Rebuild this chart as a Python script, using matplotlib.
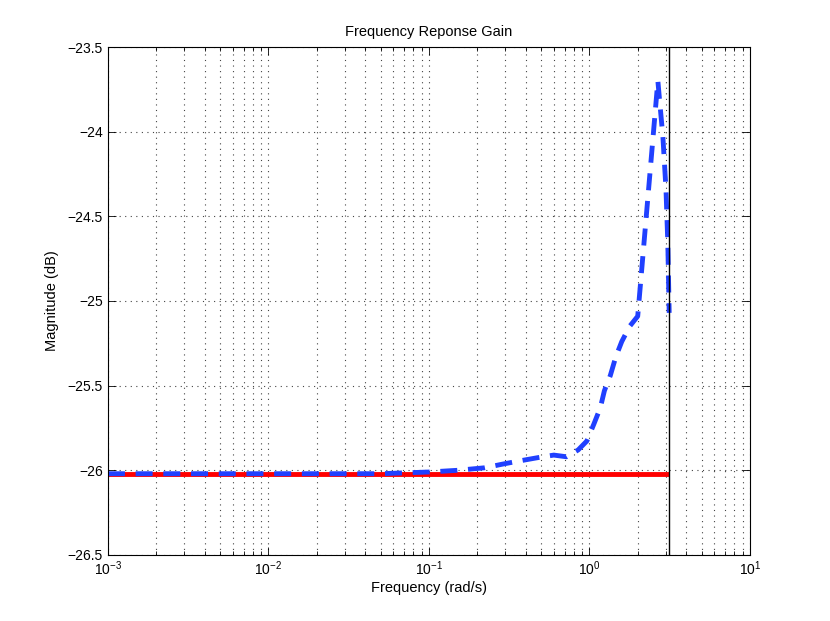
import matplotlib
matplotlib.use("Agg")
import matplotlib.pyplot as plt
import numpy as np
from matplotlib.ticker import LogLocator, NullFormatter

plt.rcParams['font.family'] = ['Liberation Sans', 'DejaVu Sans']
plt.rcParams['mathtext.fontset'] = 'custom'
plt.rcParams['mathtext.rm'] = 'Liberation Sans'
plt.rcParams['mathtext.default'] = 'regular'

ref_freq = [1e-3, np.pi]
ref_gain = [-26.02, -26.02]

meas_freq = [0.001, 0.01, 0.05, 0.1, 0.15, 0.223, 0.289, 0.374, 0.478, 0.6, 0.72,
             0.85, 0.964, 1.066, 1.17, 1.24, 1.35, 1.46, 1.59, 1.78, 2.0,
             2.67, 2.74, 2.87, 3.0, 3.08, np.pi]
meas_gain = [-26.02, -26.02, -26.02, -26.01, -26.0, -25.985, -25.963, -25.943, -25.925,
             -25.91, -25.92, -25.88, -25.827, -25.727, -25.63, -25.53, -25.44, -25.33,
             -25.24, -25.15, -25.09, -23.70, -23.82, -24.03, -24.34, -24.66, -25.07]

cut_freq = np.pi

fig = plt.figure(figsize=(8.3, 6.21), dpi=100)
ax = fig.add_axes([0.13, 0.1063, 0.7735, 0.818])

ax.plot(ref_freq, ref_gain, color='#ff0000', linewidth=3.5, solid_capstyle='butt')
ax.plot(meas_freq, meas_gain, color='#2040ff', linewidth=3.5, linestyle=(0, (3.5, 2.2)))
ax.axvline(cut_freq, color='black', linewidth=1.0)

ax.set_xscale('log')
ax.set_xlim(1e-3, 1e1)
ax.set_ylim(-26.5, -23.5)
ax.set_yticks([-26.5, -26, -25.5, -25, -24.5, -24, -23.5])
ax.set_yticklabels(['\u221226.5', '\u221226', '\u221225.5', '\u221225', '\u221224.5', '\u221224', '\u221223.5'])
ax.xaxis.set_major_locator(LogLocator(base=10, numticks=10))
ax.xaxis.set_minor_locator(LogLocator(base=10, subs=np.arange(2, 10), numticks=50))
ax.xaxis.set_minor_formatter(NullFormatter())

ax.grid(True, which='major', axis='both', linestyle=(0, (1, 4)), color='#444444', linewidth=0.8)
ax.grid(True, which='minor', axis='x', linestyle=(0, (1, 4)), color='#444444', linewidth=0.8)

ax.tick_params(which='both', direction='in', top=True, right=True, labelsize=10)
ax.tick_params(which='major', length=6, width=0.6)
ax.tick_params(which='minor', length=3, width=0.6)
for s in ax.spines.values():
    s.set_linewidth(0.8)

ax.set_title('Frequency Reponse Gain', fontsize=10.5, pad=8)
ax.set_xlabel('Frequency (rad/s)', fontsize=10.5, labelpad=2)
ax.set_ylabel('Magnitude (dB)', fontsize=10.5, labelpad=6)

fig.savefig('out.png', dpi=100, facecolor='white')
